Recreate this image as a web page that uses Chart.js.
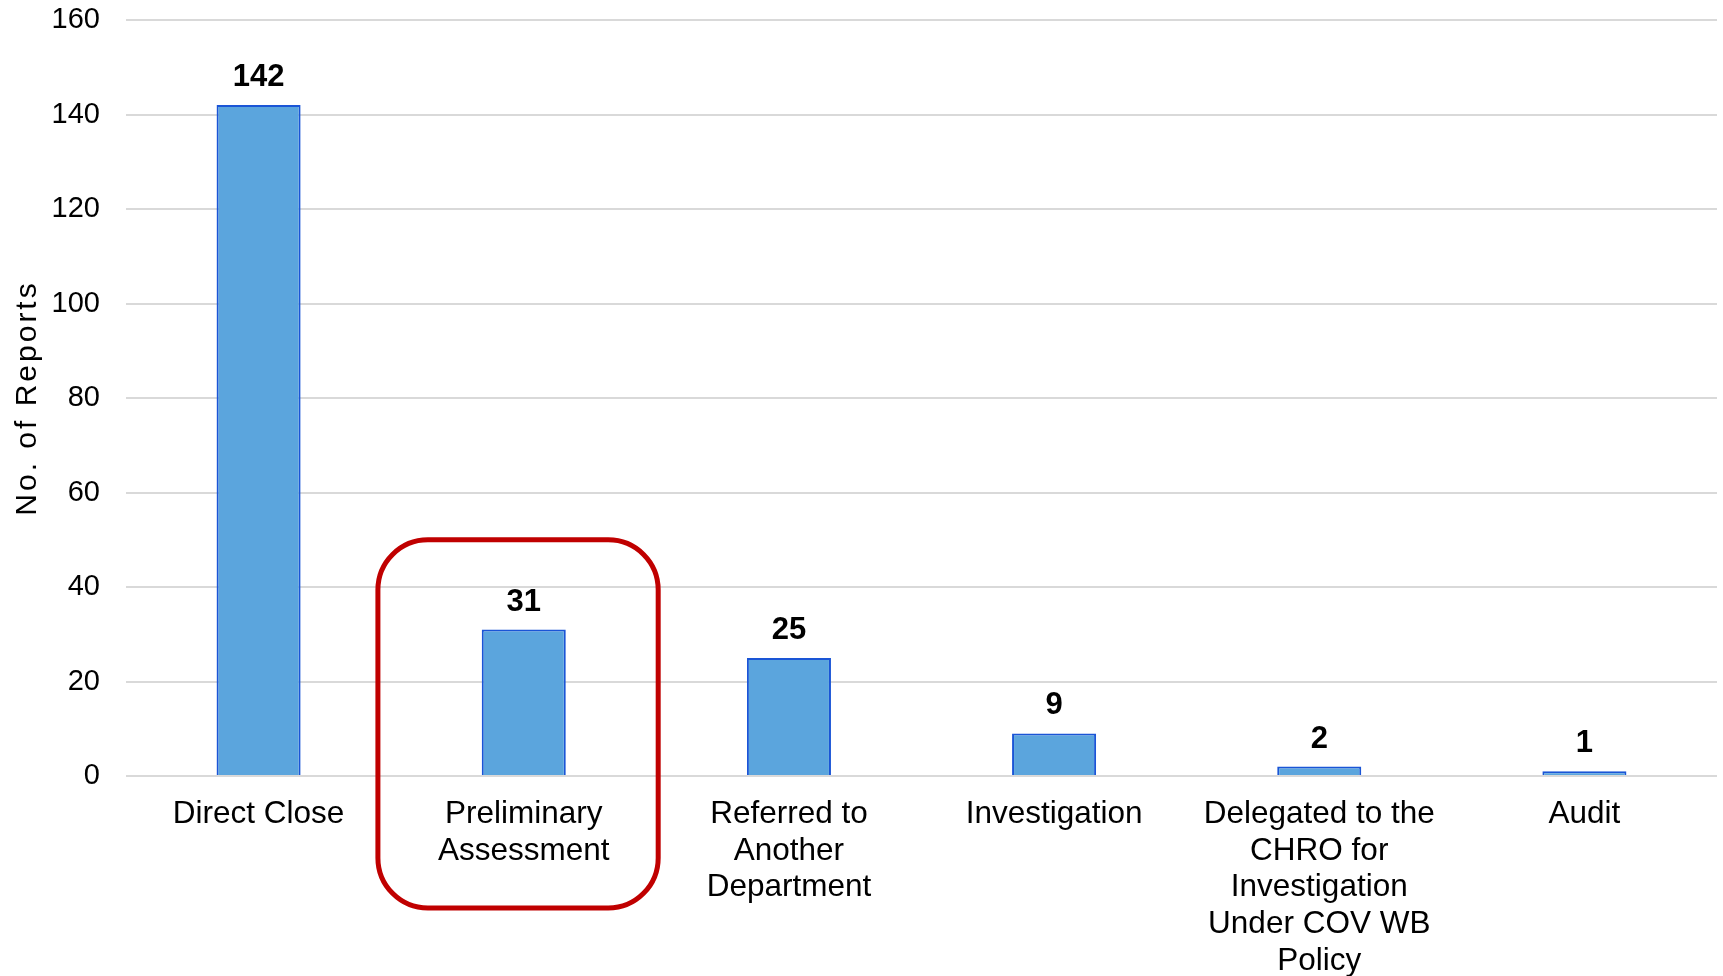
<!DOCTYPE html>
<html lang="en">
<head>
  <meta charset="UTF-8">
  <title>Report Outcomes</title>
  <script src="https://cdn.jsdelivr.net/npm/chart.js"></script>
  <style>
    body { margin: 0; background: #fff; }
    #wrap { width: 1723px; height: 976px; }
  </style>
</head>
<body>
  <div id="wrap"><canvas id="reportsChart" width="1723" height="976"></canvas></div>

  <script>
    // Outcome categories (multi-line labels are pre-wrapped)
    const categories = [
      'Direct Close',
      ['Preliminary', 'Assessment'],
      ['Referred to', 'Another', 'Department'],
      'Investigation',
      ['Delegated to the', 'CHRO for', 'Investigation', 'Under COV WB', 'Policy'],
      'Audit'
    ];
    const reportCounts = [142, 31, 25, 9, 2, 1];
    const yTicks = [0, 20, 40, 60, 80, 100, 120, 140, 160];
    const yTitle = 'No. of Reports';
    const highlightIndex = 1;

    const FONT = '"Liberation Sans", Arial, Helvetica, sans-serif';

    // value labels above each bar
    const valueLabels = {
      id: 'valueLabels',
      afterDatasetsDraw(chart) {
        const ctx = chart.ctx;
        const meta = chart.getDatasetMeta(0);
        ctx.save();
        ctx.font = 'bold 31px ' + FONT;
        ctx.fillStyle = '#000';
        ctx.textAlign = 'center';
        ctx.textBaseline = 'alphabetic';
        meta.data.forEach((bar, i) => {
          ctx.fillText(String(reportCounts[i]), bar.x, bar.y - 19);
        });
        ctx.restore();
      }
    };

    // rounded red frame around the highlighted category
    const highlightBox = {
      id: 'highlightBox',
      afterDraw(chart) {
        const ctx = chart.ctx;
        const xs = chart.scales.x;
        const ys = chart.scales.y;
        const cw = xs.width / categories.length;
        const xc = xs.getPixelForValue(highlightIndex);
        const left = xc - 0.55 * cw;
        const right = xc + 0.507 * cw;
        const top = ys.getPixelForValue(50);
        const bottom = chart.chartArea.bottom + 132;
        ctx.save();
        ctx.strokeStyle = '#c00000';
        ctx.lineWidth = 5;
        ctx.beginPath();
        ctx.roundRect(left, top, right - left, bottom - top, 50);
        ctx.stroke();
        ctx.restore();
      }
    };

    // rotated y axis title with a little letter spacing
    const yAxisTitle = {
      id: 'yAxisTitle',
      afterDraw(chart) {
        const ctx = chart.ctx;
        const area = chart.chartArea;
        ctx.save();
        ctx.translate(28, (area.top + area.bottom) / 2);
        ctx.rotate(-Math.PI / 2);
        ctx.font = '30px ' + FONT;
        ctx.letterSpacing = '3px';
        ctx.fillStyle = '#000';
        ctx.textAlign = 'center';
        ctx.textBaseline = 'middle';
        ctx.fillText(yTitle, 0, 0);
        ctx.restore();
      }
    };

    const ctx = document.getElementById('reportsChart').getContext('2d');
    new Chart(ctx, {
      type: 'bar',
      data: {
        labels: categories,
        datasets: [{
          data: reportCounts,
          backgroundColor: '#5ba5dd',
          borderColor: '#1a55d6',
          borderWidth: 2,
          categoryPercentage: 1,
          barPercentage: 0.317
        }]
      },
      options: {
        responsive: false,
        animation: false,
        layout: { padding: { top: 20, right: 6, left: 0, bottom: 0 } },
        plugins: {
          legend: { display: false },
          tooltip: { enabled: false }
        },
        scales: {
          x: {
            grid: { display: false, drawTicks: false },
            border: { display: false },
            ticks: {
              color: '#000',
              font: { family: FONT, size: 31.5, lineHeight: 1.165 },
              padding: 20,
              maxRotation: 0,
              autoSkip: false
            },
            afterFit(scale) { scale.height = 200; }
          },
          y: {
            min: 0,
            max: 160,
            afterBuildTicks(scale) { scale.ticks = yTicks.map(v => ({ value: v })); },
            grid: { color: '#d9d9d9', lineWidth: 2, drawTicks: false },
            border: { display: false },
            ticks: {
              color: '#000',
              font: { family: FONT, size: 29 },
              padding: 26
            },
            afterFit(scale) {
              scale.width = 126;
              scale.paddingTop = 0;
              scale.paddingBottom = 0;
            }
          }
        }
      },
      plugins: [valueLabels, highlightBox, yAxisTitle]
    });
  </script>
</body>
</html>
